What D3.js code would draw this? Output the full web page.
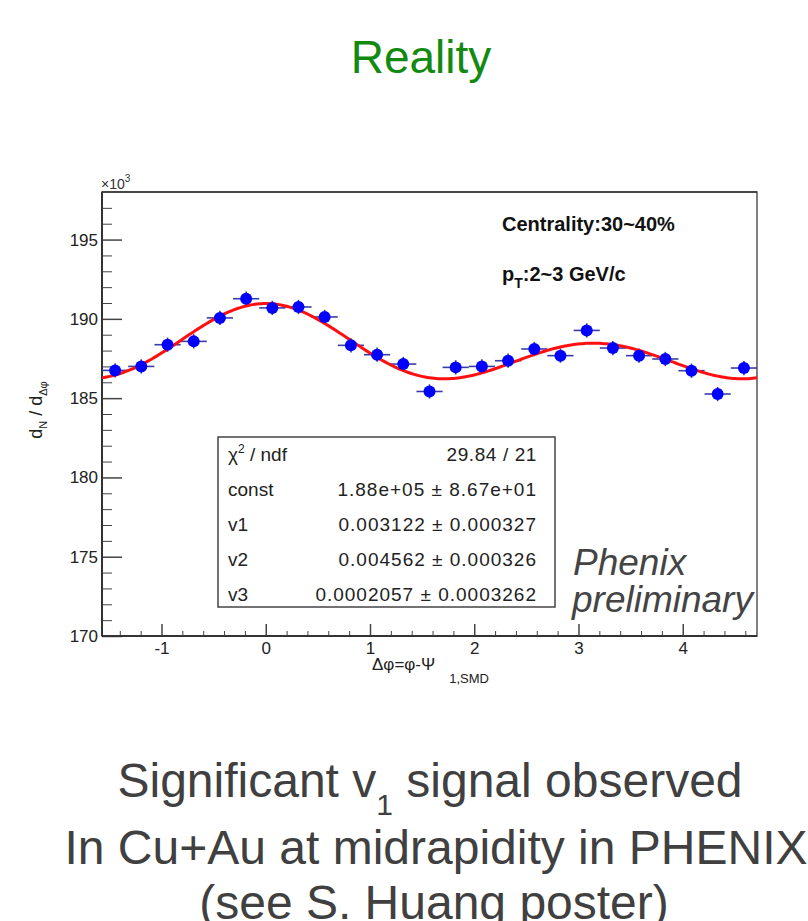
<!DOCTYPE html>
<html lang="en">
<head>
<meta charset="UTF-8">
<title>Reality - v1 in Cu+Au</title>
<script src="https://d3js.org/d3.v7.min.js"></script>
<style>
    body { margin: 0; background: #fff; }
    svg text { font-family: "Liberation Sans", Arial, sans-serif; }
    .tick text { font-size: 17px; fill: #222; }
    .tick line { stroke: #444; }
</style>
</head>
<body>
<svg width="808" height="921"></svg>
<script>
// bin centres of delta phi (25 bins from -pi/2 to 3pi/2)
const phiBins = [-1.445, -1.194, -0.942, -0.691, -0.440, -0.188, 0.063, 0.314, 0.565, 0.817,
    1.068, 1.319, 1.571, 1.822, 2.073, 2.325, 2.576, 2.827, 3.079, 3.330,
    3.581, 3.833, 4.084, 4.335, 4.587];
// dN/d(dphi) in units of 10^3
const counts = [186.75, 187.0, 188.37, 188.58, 190.06, 191.27, 190.69, 190.75, 190.12, 188.33,
    187.74, 187.15, 185.42, 186.94, 187.0, 187.36, 188.1, 187.68, 189.27, 188.16,
    187.68, 187.47, 186.73, 185.26, 186.9];
const errors = [0.45, 0.45, 0.45, 0.45, 0.45, 0.45, 0.45, 0.45, 0.45, 0.45,
    0.45, 0.45, 0.45, 0.45, 0.45, 0.45, 0.45, 0.45, 0.45, 0.45,
    0.45, 0.45, 0.45, 0.45, 0.45];
const binWidth = 0.2513;

// fit parameters shown in the stats box
const fitConst = 188.0;
const fitV = [0.003122, 0.004562, 0.0002057];
const statLabels = ["const", "v1", "v2", "v3"];
const statValues = ["1.88e+05 \u00b1 8.67e+01", "0.003122 \u00b1 0.000327",
    "0.004562 \u00b1 0.000326", "0.0002057 \u00b1 0.0003262"];
const chiNdf = "29.84 / 21";

const xMajor = [-1, 0, 1, 2, 3, 4];
const yMajor = [170, 175, 180, 185, 190, 195];

const svg = d3.select("svg");

// plot frame
const fLeft = 102, fRight = 757, fTop = 192, fBottom = 636;
const x = d3.scaleLinear().domain([-Math.PI / 2, 3 * Math.PI / 2]).range([fLeft, fRight]);
const y = d3.scaleLinear().domain([170, 198]).range([fBottom, fTop]);

// title
svg.append("text")
    .attr("x", 421).attr("y", 73)
    .attr("text-anchor", "middle")
    .style("font-size", "46px")
    .style("fill", "#128a12")
    .text("Reality");

svg.append("defs").append("clipPath").attr("id", "plotClip")
    .append("rect").attr("x", fLeft).attr("y", fTop)
    .attr("width", fRight - fLeft).attr("height", fBottom - fTop);

svg.append("rect")
    .attr("x", fLeft).attr("y", fTop)
    .attr("width", fRight - fLeft).attr("height", fBottom - fTop)
    .attr("fill", "none").attr("stroke", "#555").attr("stroke-width", 1.5);

// minor ticks
const xMinor = d3.range(-1.4, 4.75, 0.2).filter(v => Math.abs(v - Math.round(v)) > 0.01);
const yMinor = d3.range(171, 198, 1).filter(v => v % 5 !== 0);

svg.append("g")
    .attr("transform", `translate(0,${fBottom})`)
    .call(d3.axisBottom(x).tickValues(xMinor).tickSize(-5).tickFormat(""))
    .call(g => g.select(".domain").remove());
svg.append("g")
    .attr("transform", `translate(${fLeft},0)`)
    .call(d3.axisLeft(y).tickValues(yMinor).tickSize(-10).tickFormat(""))
    .call(g => g.select(".domain").remove());

// major ticks
svg.append("g")
    .attr("transform", `translate(0,${fBottom})`)
    .call(d3.axisBottom(x).tickValues(xMajor).tickSize(-12).tickPadding(6).tickFormat(d => String(d)))
    .call(g => g.select(".domain").remove())
    .call(g => g.selectAll(".tick line").attr("stroke-width", 1.5));
svg.append("g")
    .attr("transform", `translate(${fLeft},0)`)
    .call(d3.axisLeft(y).tickValues(yMajor).tickSize(-20).tickPadding(4).tickFormat(d => String(d)))
    .call(g => g.select(".domain").remove())
    .call(g => g.selectAll(".tick line").attr("stroke-width", 1.5));

// axis lines
svg.append("line").attr("x1", fLeft).attr("x2", fLeft).attr("y1", fTop).attr("y2", fBottom)
    .attr("stroke", "#333").attr("stroke-width", 2);
svg.append("line").attr("x1", fLeft).attr("x2", fRight).attr("y1", fBottom).attr("y2", fBottom)
    .attr("stroke", "#333").attr("stroke-width", 2);
svg.append("line").attr("x1", fLeft).attr("x2", fRight).attr("y1", fTop).attr("y2", fTop)
    .attr("stroke", "#333").attr("stroke-width", 1.5);

// x10^3 multiplier
const mult = svg.append("text").attr("x", 101).attr("y", 189)
    .style("font-size", "14px").style("fill", "#333");
mult.append("tspan").text("\u00d710");
mult.append("tspan").attr("dy", -7).style("font-size", "10px").text("3");

// y axis title
const yt = svg.append("text")
    .attr("transform", "translate(42,410) rotate(-90)")
    .attr("text-anchor", "middle")
    .style("font-size", "18px").style("fill", "#222");
yt.append("tspan").text("d");
yt.append("tspan").attr("dy", 5).style("font-size", "11px").text("N");
yt.append("tspan").attr("dy", -5).text(" / d");
yt.append("tspan").attr("dy", 5).style("font-size", "11px").text("\u0394\u03c6");

// x axis title
const xt = svg.append("text").attr("x", 372).attr("y", 670)
    .style("font-size", "17px").style("fill", "#222");
xt.append("tspan").text("\u0394\u03c6=\u03c6-\u03a8");
xt.append("tspan").attr("dx", 14).attr("dy", 13).style("font-size", "13px").text("1,SMD");

// stats box
const sx = 218, sy = 437, sw = 337, sh = 170;
svg.append("rect").attr("x", sx).attr("y", sy).attr("width", sw).attr("height", sh)
    .attr("fill", "#fff").attr("stroke", "#444").attr("stroke-width", 1.5);
const rowY = i => 461 + i * 35;
const chi = svg.append("text").attr("x", 228).attr("y", rowY(0))
    .style("font-size", "19px").style("fill", "#222");
chi.append("tspan").text("\u03c7");
chi.append("tspan").attr("dy", -8).style("font-size", "12px").text("2");
chi.append("tspan").attr("dy", 8).text(" / ndf");
svg.append("text").attr("x", 537).attr("y", rowY(0)).attr("text-anchor", "end")
    .style("font-size", "19px").style("fill", "#222").style("letter-spacing", "0.6px").text(chiNdf);
statLabels.forEach((lab, i) => {
    svg.append("text").attr("x", 228).attr("y", rowY(i + 1))
        .style("font-size", "19px").style("fill", "#222").text(lab);
    svg.append("text").attr("x", 537).attr("y", rowY(i + 1)).attr("text-anchor", "end")
        .style("font-size", "19px").style("fill", "#222").style("letter-spacing", "1px")
        .text(statValues[i]);
});

// fit curve: const*(1 + 2 v1 cos x + 2 v2 cos 2x + 2 v3 cos 3x)
const fitFn = t => fitConst * (1 + 2 * fitV[0] * Math.cos(t) + 2 * fitV[1] * Math.cos(2 * t) + 2 * fitV[2] * Math.cos(3 * t));
const fitX = d3.range(0, 301).map(i => x.domain()[0] + i * (x.domain()[1] - x.domain()[0]) / 300);

const plot = svg.append("g").attr("clip-path", "url(#plotClip)");

// error bars
const pts = phiBins.map((p, i) => ({ x: p, y: counts[i], e: errors[i] }));
plot.append("g").selectAll("line.h").data(pts).join("line")
    .attr("x1", d => x(d.x - binWidth / 2)).attr("x2", d => x(d.x + binWidth / 2))
    .attr("y1", d => y(d.y)).attr("y2", d => y(d.y))
    .attr("stroke", "#3b3ba6").attr("stroke-width", 1.6);
plot.append("g").selectAll("line.v").data(pts).join("line")
    .attr("x1", d => x(d.x)).attr("x2", d => x(d.x))
    .attr("y1", d => y(d.y - d.e)).attr("y2", d => y(d.y + d.e))
    .attr("stroke", "#3b3ba6").attr("stroke-width", 1.6);

plot.append("path")
    .datum(fitX)
    .attr("d", d3.line().x(d => x(d)).y(d => y(fitFn(d))))
    .attr("fill", "none").attr("stroke", "#ff1010").attr("stroke-width", 3);

plot.append("g").selectAll("circle").data(pts).join("circle")
    .attr("cx", d => x(d.x)).attr("cy", d => y(d.y)).attr("r", 6)
    .attr("fill", "#0000ff");

// labels inside frame
svg.append("text").attr("x", 502).attr("y", 231)
    .style("font-size", "20px").style("font-weight", "bold").style("fill", "#111")
    .text("Centrality:30~40%");
const pt = svg.append("text").attr("x", 502).attr("y", 281)
    .style("font-size", "20px").style("font-weight", "bold").style("fill", "#111");
pt.append("tspan").text("p");
pt.append("tspan").attr("dy", 7).style("font-size", "14px").text("T");
pt.append("tspan").attr("dy", -7).text(":2~3 GeV/c");

svg.append("text").attr("x", 573).attr("y", 575)
    .style("font-size", "37px").style("font-style", "italic").style("fill", "#444")
    .text("Phenix");
svg.append("text").attr("x", 572).attr("y", 612)
    .style("font-size", "37px").style("font-style", "italic").style("fill", "#444")
    .text("preliminary");

// bottom caption
const cap1 = svg.append("text").attr("x", 430).attr("y", 797).attr("text-anchor", "middle")
    .style("font-size", "48px").style("fill", "#404040");
cap1.append("tspan").text("Significant v");
cap1.append("tspan").attr("dy", 18).style("font-size", "30px").text("1");
cap1.append("tspan").attr("dy", -18).text(" signal observed");
svg.append("text").attr("x", 436).attr("y", 864).attr("text-anchor", "middle")
    .style("font-size", "48px").style("fill", "#404040")
    .text("In Cu+Au at midrapidity in PHENIX");
svg.append("text").attr("x", 434).attr("y", 919).attr("text-anchor", "middle")
    .style("font-size", "48px").style("fill", "#404040")
    .text("(see S. Huang poster)");
</script>
</body>
</html>
